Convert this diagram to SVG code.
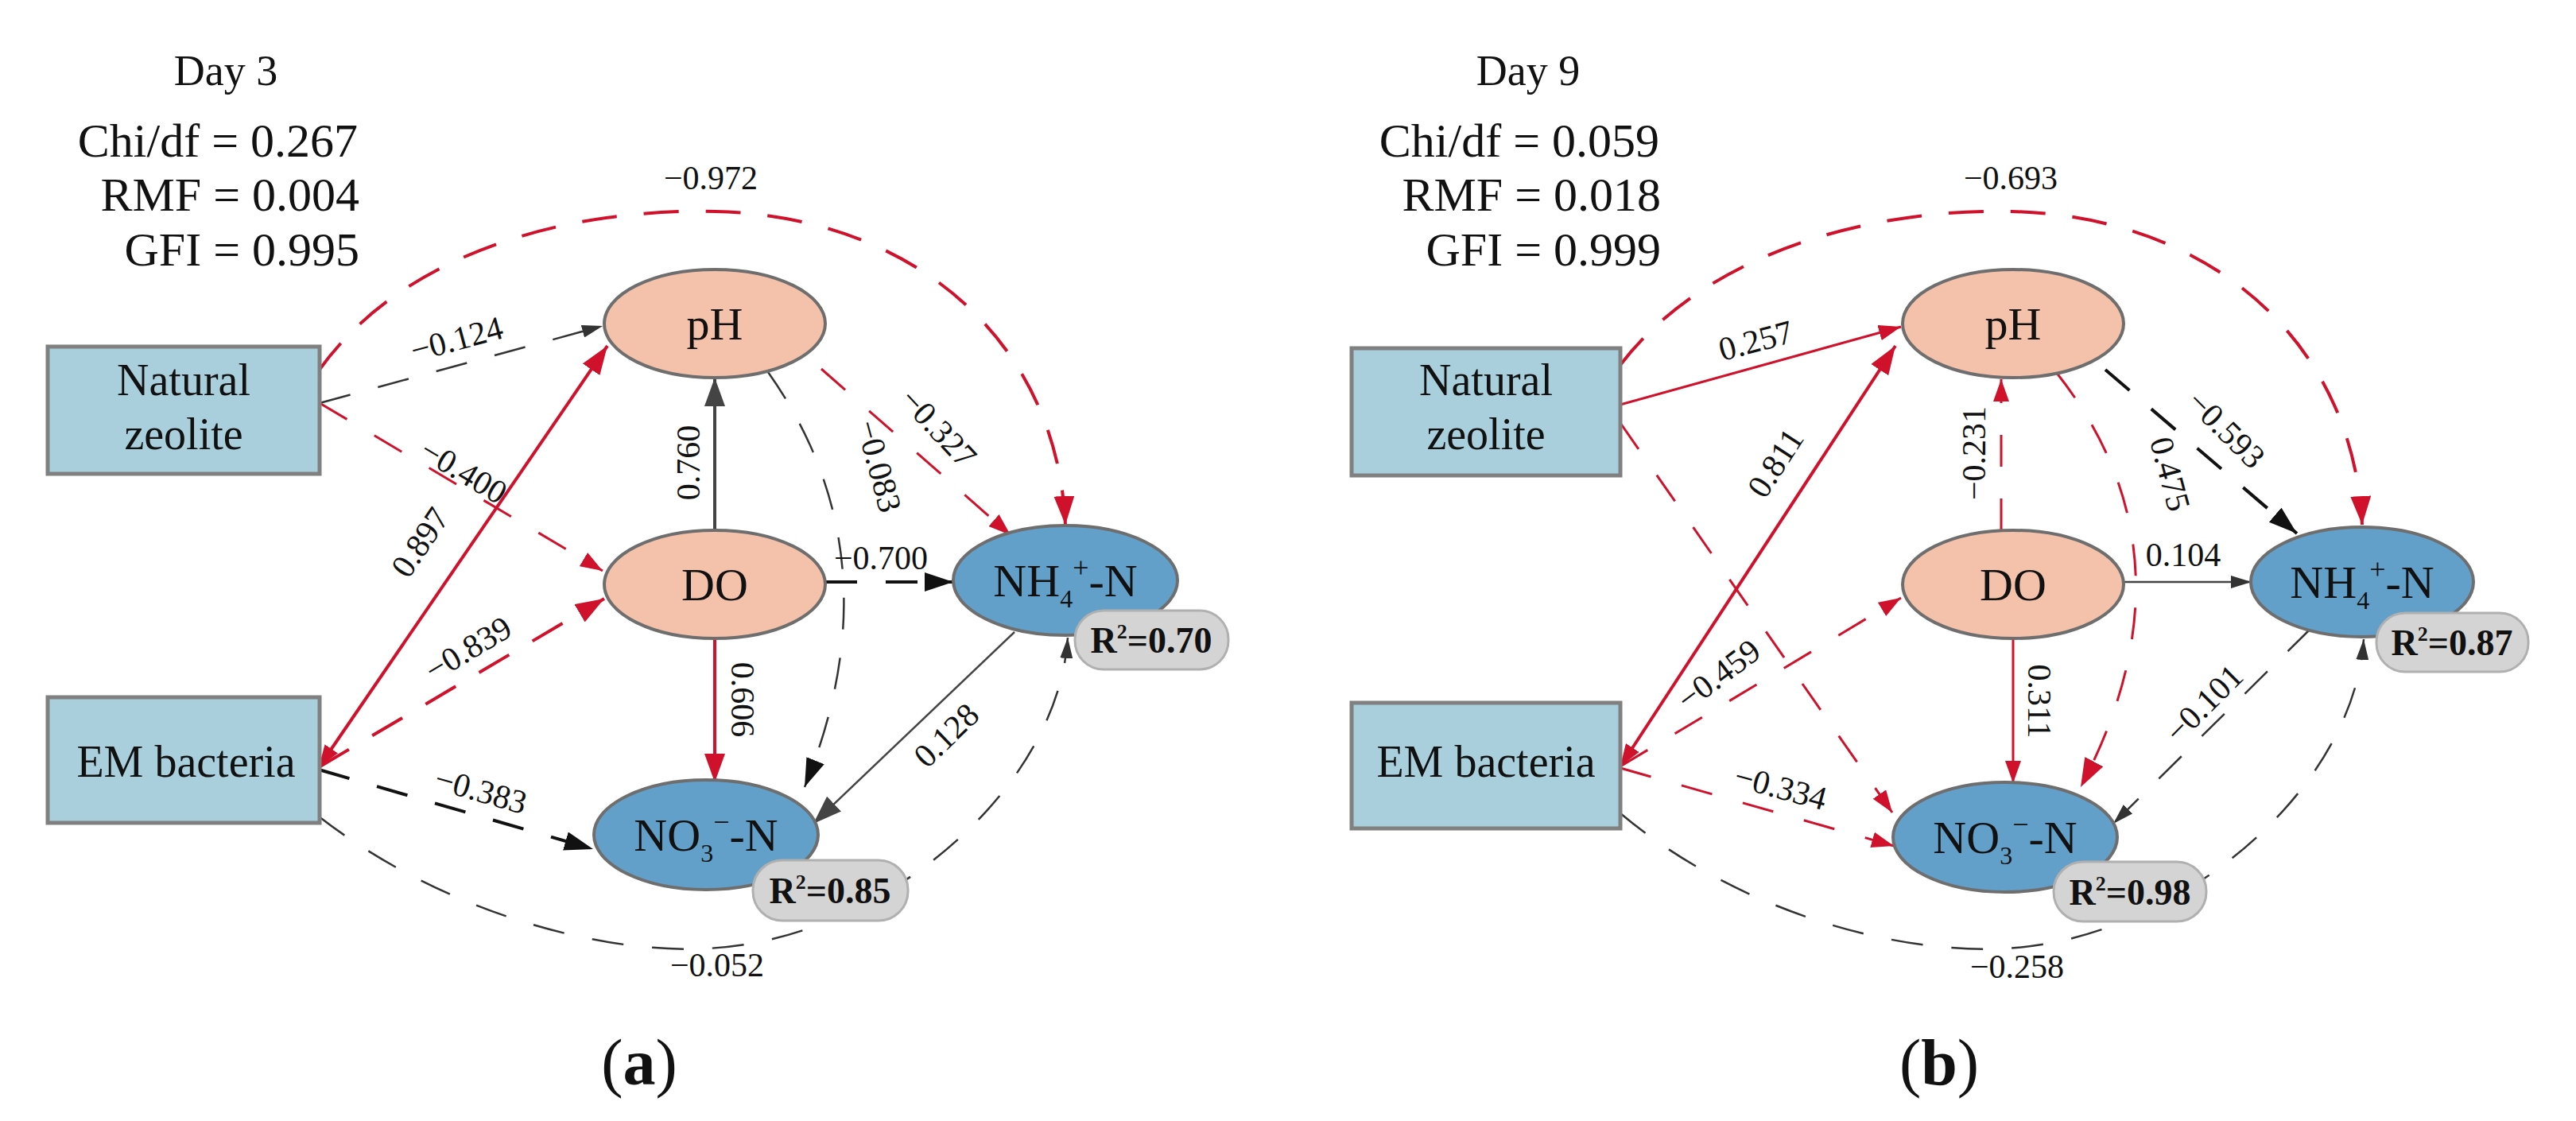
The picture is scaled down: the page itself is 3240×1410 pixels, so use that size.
<svg xmlns="http://www.w3.org/2000/svg" width="3240" height="1410" viewBox="0 0 3240 1410">
<style>
text{font-family:"Liberation Serif","Times New Roman",serif;fill:#111}
.hdr{font-size:54px;text-anchor:middle}
.fit{font-size:60px;text-anchor:end}
.box{fill:#a9cfdc;stroke:#808080;stroke-width:5}
.bt{font-size:56px;text-anchor:middle}
.oe{fill:#f4c2aa;stroke:#6e6e6e;stroke-width:4}
.be{fill:#62a0c9;stroke:#6e6e6e;stroke-width:4}
.nt{font-size:58px;text-anchor:middle}
.r2{fill:#d4d4d4;stroke:#b0b0b0;stroke-width:3}
.r2t{font-size:46px;font-weight:bold;text-anchor:middle}
.lbl{font-size:42px;text-anchor:middle}
.cap{font-size:82px;text-anchor:middle}
.e{fill:none}
.rs{stroke:#d0112b;stroke-width:4}
.rs2{stroke:#d0112b;stroke-width:3}
.rd{stroke:#d0112b;stroke-width:4;stroke-dasharray:44 34}
.rd2{stroke:#d0112b;stroke-width:3;stroke-dasharray:40 40}
.kd{stroke:#333;stroke-width:2.5;stroke-dasharray:40 36}
.kd3{stroke:#111;stroke-width:4;stroke-dasharray:40 36}
.gs{stroke:#444;stroke-width:4}
.gs2{stroke:#444;stroke-width:2.5}
</style>
<defs>
<marker id="ar" markerUnits="userSpaceOnUse" markerWidth="36" markerHeight="26" viewBox="0 0 36 26" refX="36" refY="13" orient="auto-start-reverse"><path d="M0,0 L36,13 L0,26 Z" fill="#d0112b"/></marker>
<marker id="ars" markerUnits="userSpaceOnUse" markerWidth="28" markerHeight="20" viewBox="0 0 28 20" refX="28" refY="10" orient="auto-start-reverse"><path d="M0,0 L28,10 L0,20 Z" fill="#d0112b"/></marker>
<marker id="ak" markerUnits="userSpaceOnUse" markerWidth="36" markerHeight="24" viewBox="0 0 36 24" refX="36" refY="12" orient="auto"><path d="M0,0 L36,12 L0,24 Z" fill="#111"/></marker>
<marker id="aks" markerUnits="userSpaceOnUse" markerWidth="26" markerHeight="16" viewBox="0 0 26 16" refX="26" refY="8" orient="auto"><path d="M0,0 L26,8 L0,16 Z" fill="#333"/></marker>
<marker id="ag" markerUnits="userSpaceOnUse" markerWidth="36" markerHeight="26" viewBox="0 0 36 26" refX="36" refY="13" orient="auto"><path d="M0,0 L36,13 L0,26 Z" fill="#444"/></marker>
</defs>
<rect width="3240" height="1410" fill="#fff"/>

<!-- Panel (a) -->
<g id="panel-a">
<text class="hdr" x="284" y="107">Day 3</text>
<text class="fit" x="450" y="197">Chi/df = 0.267</text>
<text class="fit" x="452" y="265">RMF = 0.004</text>
<text class="fit" x="452" y="334">GFI = 0.995</text>

<g id="a-connectors">
<path class="e rd" d="M401,466 C520,300 750,262 900,266 C1150,272 1330,430 1340,660" marker-end="url(#ar)"/>
<text class="lbl" x="894" y="238">−0.972</text>
<path class="e kd" d="M402,507 L758,410" marker-end="url(#aks)"/>
<text class="lbl" transform="translate(578,440) rotate(-15)">−0.124</text>
<path class="e rd2" d="M402,507 L758,718" marker-end="url(#ars)"/>
<text class="lbl" transform="translate(576,605) rotate(31)">−0.400</text>
<path class="e rs" d="M401,965 L764,435" marker-start="url(#ars)" marker-end="url(#ar)"/>
<text class="lbl" transform="translate(540,690) rotate(-56)">0.897</text>
<path class="e rd" d="M401,965 L760,753" marker-end="url(#ar)"/>
<text class="lbl" transform="translate(596,828) rotate(-31)">−0.839</text>
<path class="e kd3" d="M401,968 L746,1068" marker-end="url(#ak)"/>
<text class="lbl" transform="translate(601,1008) rotate(16)">−0.383</text>
<path class="e kd" d="M401,1027 C560,1150 760,1200 888,1193 C1100,1185 1330,1000 1343,802" marker-end="url(#aks)"/>
<text class="lbl" x="902" y="1228">−0.052</text>
<path class="e rd2" d="M1033,464 L1271,673" marker-end="url(#ars)"/>
<text class="lbl" transform="translate(1170,548) rotate(47)">−0.327</text>
<path class="e kd" d="M966,468 Q1130,700 1012,990" marker-end="url(#ak)"/>
<text class="lbl" transform="translate(1092,590) rotate(75)">−0.083</text>
<path class="e gs" d="M899,667 L899,475" marker-end="url(#ag)"/>
<text class="lbl" transform="translate(880,582) rotate(-90)">0.760</text>
<path class="e kd3" d="M1038,732 L1199,732" marker-end="url(#ak)"/>
<text class="lbl" x="1108" y="716">−0.700</text>
<path class="e rs" d="M899,803 L899,984" marker-end="url(#ar)"/>
<text class="lbl" transform="translate(920,880) rotate(90)">0.606</text>
<path class="e gs2" d="M1276,795 L1023,1036" marker-end="url(#ag)"/>
<text class="lbl" transform="translate(1200,935) rotate(-44)">0.128</text>
</g>

<g id="a-natural"><rect class="box" x="60" y="436" width="342" height="160"/><text class="bt" x="231" y="497">Natural</text><text class="bt" x="231" y="565">zeolite</text></g>
<g id="a-em"><rect class="box" x="60" y="877" width="342" height="158"/><text class="bt" x="234" y="977">EM bacteria</text></g>
<g id="a-ph"><ellipse class="oe" cx="899" cy="407" rx="139" ry="68"/><text class="nt" x="899" y="427">pH</text></g>
<g id="a-do"><ellipse class="oe" cx="899" cy="735" rx="139" ry="68"/><text class="nt" x="899" y="755">DO</text></g>
<g id="a-nh4"><ellipse class="be" cx="1340" cy="730" rx="141" ry="69"/><text class="nt" x="1340" y="750">NH<tspan font-size="32" dy="14">4</tspan><tspan font-size="36" dy="-38">+</tspan><tspan dy="24">-N</tspan></text>
<rect class="r2" x="1352" y="768" width="193" height="74" rx="36"/><text class="r2t" x="1448" y="821">R<tspan font-size="26" dy="-18">2</tspan><tspan dy="18">=0.70</tspan></text></g>
<g id="a-no3"><ellipse class="be" cx="888" cy="1050" rx="141" ry="69"/><text class="nt" x="888" y="1070">NO<tspan font-size="32" dy="14">3</tspan><tspan font-size="36" dy="-38">−</tspan><tspan dy="24">-N</tspan></text>
<rect class="r2" x="947" y="1082" width="195" height="76" rx="37"/><text class="r2t" x="1044" y="1136">R<tspan font-size="26" dy="-18">2</tspan><tspan dy="18">=0.85</tspan></text></g>
<text class="cap" x="804" y="1364">(<tspan font-weight="bold">a</tspan>)</text>
</g>

<!-- Panel (b) -->
<g id="panel-b">
<text class="hdr" x="1922" y="107">Day 9</text>
<text class="fit" x="2087" y="197">Chi/df = 0.059</text>
<text class="fit" x="2089" y="265">RMF = 0.018</text>
<text class="fit" x="2089" y="334">GFI = 0.999</text>

<g id="b-connectors">
<path class="e rd" d="M2038,459 C2160,300 2390,262 2530,266 C2780,272 2960,430 2971,660" marker-end="url(#ar)"/>
<text class="lbl" x="2529" y="238">−0.693</text>
<path class="e rs2" d="M2038,509 L2391,411" marker-end="url(#ars)"/>
<text class="lbl" transform="translate(2212,442) rotate(-15)">0.257</text>
<path class="e rd2" d="M2038,532 L2380,1022" marker-end="url(#ars)"/>
<path class="e rs" d="M2038,964 L2384,435" marker-start="url(#ars)" marker-end="url(#ar)"/>
<text class="lbl" transform="translate(2245,590) rotate(-57)">0.811</text>
<path class="e rd2" d="M2038,964 L2391,752" marker-end="url(#ars)"/>
<text class="lbl" transform="translate(2170,860) rotate(-37)">−0.459</text>
<path class="e rd2" d="M2038,966 L2382,1064" marker-end="url(#ars)"/>
<text class="lbl" transform="translate(2236,1004) rotate(15)">−0.334</text>
<path class="e kd" d="M2038,1023 C2190,1150 2390,1200 2519,1193 C2730,1185 2960,1000 2973,804" marker-end="url(#aks)"/>
<text class="lbl" x="2537" y="1230">−0.258</text>
<path class="e kd3" d="M2648,465 L2889,671" marker-end="url(#ak)"/>
<text class="lbl" transform="translate(2790,550) rotate(45)">−0.593</text>
<path class="e rd2" d="M2586,468 Q2770,700 2617,990" marker-end="url(#ar)"/>
<text class="lbl" transform="translate(2716,600) rotate(75)">0.475</text>
<path class="e rd2" d="M2517,667 L2517,477" marker-end="url(#ars)"/>
<text class="lbl" transform="translate(2497,570) rotate(-90)">−0.231</text>
<path class="e gs2" d="M2672,732 L2832,732" marker-end="url(#aks)"/>
<text class="lbl" x="2746" y="712">0.104</text>
<path class="e rs2" d="M2532,803 L2532,985" marker-end="url(#ars)"/>
<text class="lbl" transform="translate(2551,882) rotate(90)">0.311</text>
<path class="e kd" d="M2906,791 L2658,1036" marker-end="url(#aks)"/>
<text class="lbl" transform="translate(2782,895) rotate(-45)">−0.101</text>
</g>

<g id="b-natural"><rect class="box" x="1700" y="438" width="338" height="160"/><text class="bt" x="1869" y="497">Natural</text><text class="bt" x="1869" y="565">zeolite</text></g>
<g id="b-em"><rect class="box" x="1700" y="884" width="338" height="158"/><text class="bt" x="1869" y="977">EM bacteria</text></g>
<g id="b-ph"><ellipse class="oe" cx="2532" cy="407" rx="139" ry="68"/><text class="nt" x="2532" y="427">pH</text></g>
<g id="b-do"><ellipse class="oe" cx="2532" cy="735" rx="139" ry="68"/><text class="nt" x="2532" y="755">DO</text></g>
<g id="b-nh4"><ellipse class="be" cx="2971" cy="732" rx="140" ry="69"/><text class="nt" x="2971" y="752">NH<tspan font-size="32" dy="14">4</tspan><tspan font-size="36" dy="-38">+</tspan><tspan dy="24">-N</tspan></text>
<rect class="r2" x="2989" y="771" width="191" height="74" rx="36"/><text class="r2t" x="3084" y="824">R<tspan font-size="26" dy="-18">2</tspan><tspan dy="18">=0.87</tspan></text></g>
<g id="b-no3"><ellipse class="be" cx="2522" cy="1053" rx="141" ry="69"/><text class="nt" x="2522" y="1073">NO<tspan font-size="32" dy="14">3</tspan><tspan font-size="36" dy="-38">−</tspan><tspan dy="24">-N</tspan></text>
<rect class="r2" x="2583" y="1084" width="192" height="75" rx="37"/><text class="r2t" x="2679" y="1138">R<tspan font-size="26" dy="-18">2</tspan><tspan dy="18">=0.98</tspan></text></g>
<text class="cap" x="2439" y="1364">(<tspan font-weight="bold">b</tspan>)</text>
</g>
</svg>
